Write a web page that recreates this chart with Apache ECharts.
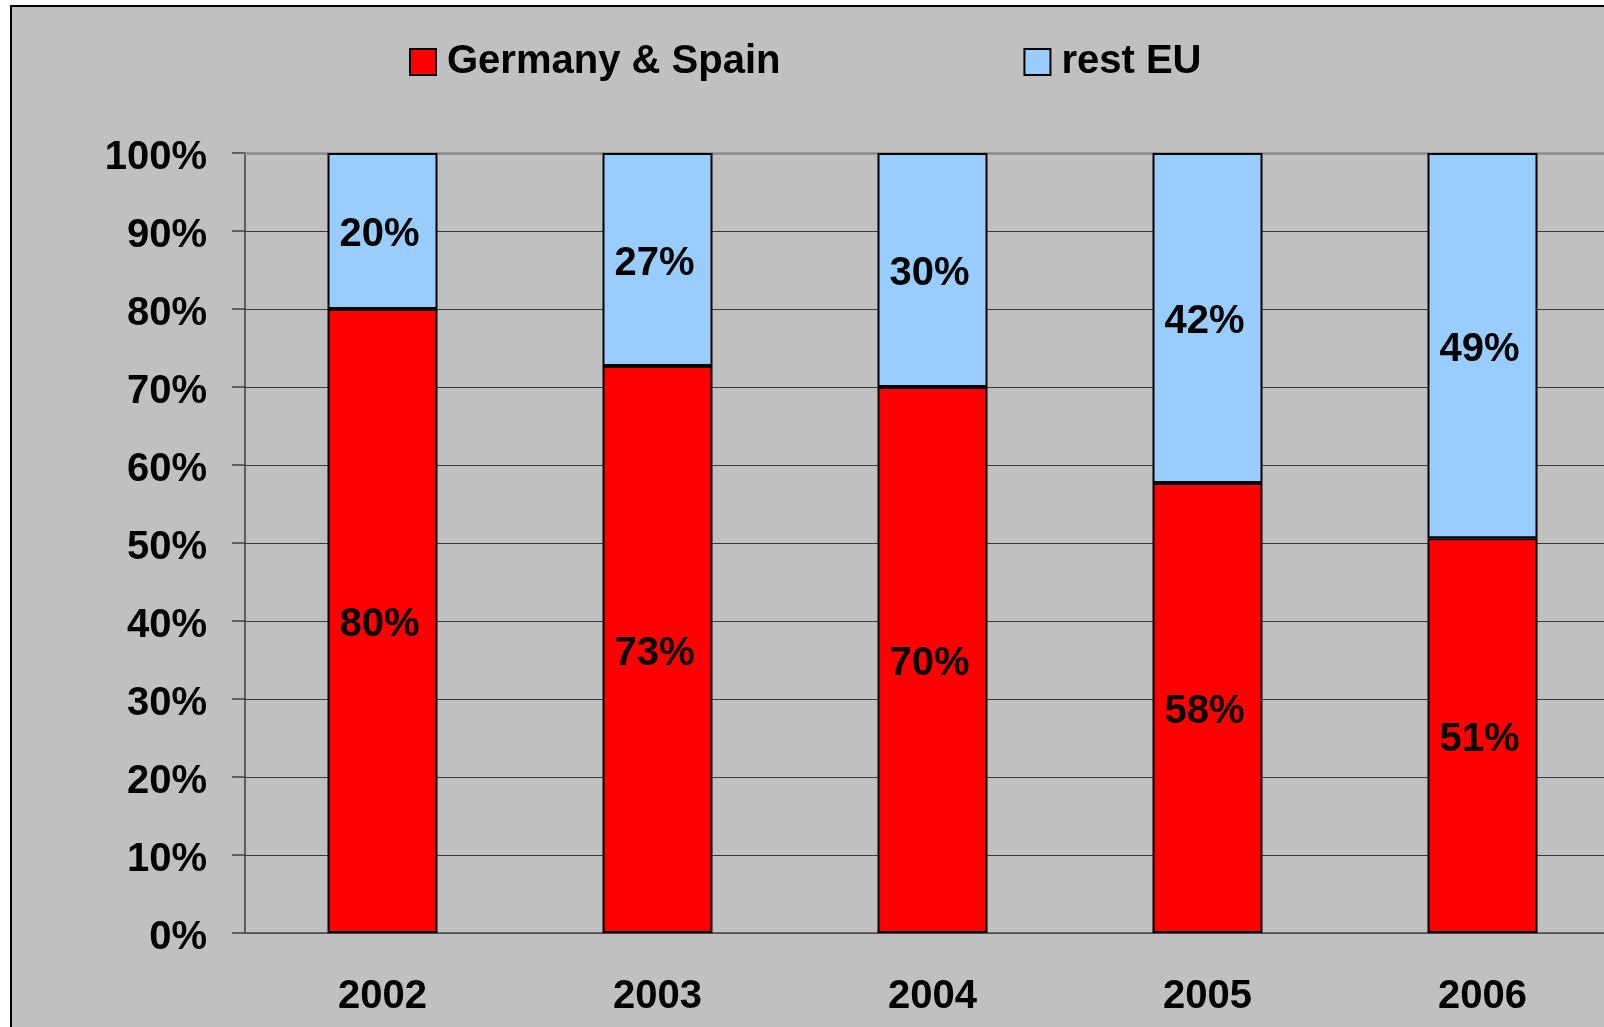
<!DOCTYPE html>
<html>
<head>
<meta charset="utf-8">
<title>Germany & Spain vs rest EU</title>
<script src="https://cdn.jsdelivr.net/npm/echarts@6/dist/echarts.min.js"></script>
<style>
  html, body { margin: 0; padding: 0; background: #ffffff; }
  #chart { width: 1604px; height: 1027px; }
</style>
</head>
<body>
<div id="chart"></div>
<script>
// shares per year (percent of total)
const categories = ['2002', '2003', '2004', '2005', '2006']
const germanySpain = [80, 72.7, 70, 57.7, 50.6]
const restEU = [20, 27.3, 30, 42.3, 49.4]
const yTicks = { min: 0, max: 100, interval: 10 }

const FONT = "'Liberation Sans', Arial, sans-serif"

const chart = echarts.init(document.getElementById('chart'))

const segLabel = {
  show: true,
  position: 'inside',
  offset: [-3, 4],
  color: '#000',
  fontFamily: FONT,
  fontWeight: 'bold',
  fontSize: 40,
  formatter: (p) => Math.round(p.value) + '%'
}

chart.setOption({
  backgroundColor: 'transparent',
  animation: false,
  textStyle: { fontFamily: FONT },
  graphic: [
    {
      type: 'rect',
      z: -100,
      silent: true,
      shape: { x: 11, y: 6, width: 1700, height: 1100 },
      style: { fill: '#c0c0c0', stroke: '#000', lineWidth: 2 }
    }
  ],
  legend: {
    left: 404,
    top: 37,
    itemWidth: 26,
    itemHeight: 26,
    itemGap: 243,
    icon: 'rect',
    textStyle: {
      color: '#000',
      fontSize: 40,
      fontWeight: 'bold',
      fontFamily: FONT,
      padding: [0, 0, 0, 6]
    },
    data: ['Germany & Spain', 'rest EU']
  },
  grid: {
    left: 245,
    top: 153,
    width: 1375,
    height: 780,
    outerBoundsMode: 'none'
  },
  xAxis: [
    {
      type: 'category',
      data: categories,
      axisLine: { lineStyle: { color: '#505050', width: 1.5 } },
      axisTick: { length: 13, lineStyle: { color: '#404040', width: 1.5 } },
      axisLabel: {
        margin: 44,
        color: '#000',
        fontSize: 40,
        fontWeight: 'bold',
        fontFamily: FONT
      }
    },
    {
      type: 'category',
      position: 'top',
      data: categories,
      axisLine: { lineStyle: { color: '#8a8a8a', width: 2.5 } },
      axisTick: { show: false },
      axisLabel: { show: false }
    }
  ],
  yAxis: {
    type: 'value',
    min: yTicks.min,
    max: yTicks.max,
    interval: yTicks.interval,
    axisLine: { show: true, lineStyle: { color: '#404040', width: 1.5 } },
    axisTick: { show: true, length: 13, lineStyle: { color: '#404040', width: 1.5 } },
    axisLabel: {
      margin: 38,
      formatter: (v) => '{t|' + v + '%}',
      rich: {
        t: {
          color: '#000',
          fontSize: 40,
          fontWeight: 'bold',
          fontFamily: FONT,
          padding: [10, 0, 0, 0]
        }
      }
    },
    splitLine: { lineStyle: { color: '#3a3a3a', width: 1 } }
  },
  series: [
    {
      name: 'Germany & Spain',
      type: 'bar',
      stack: 'share',
      barWidth: 110,
      data: germanySpain,
      itemStyle: { color: '#ff0000', borderColor: '#000', borderWidth: 2 },
      label: segLabel
    },
    {
      name: 'rest EU',
      type: 'bar',
      stack: 'share',
      barWidth: 110,
      data: restEU,
      itemStyle: { color: '#99ccff', borderColor: '#000', borderWidth: 2 },
      label: segLabel
    }
  ]
})
</script>
</body>
</html>
